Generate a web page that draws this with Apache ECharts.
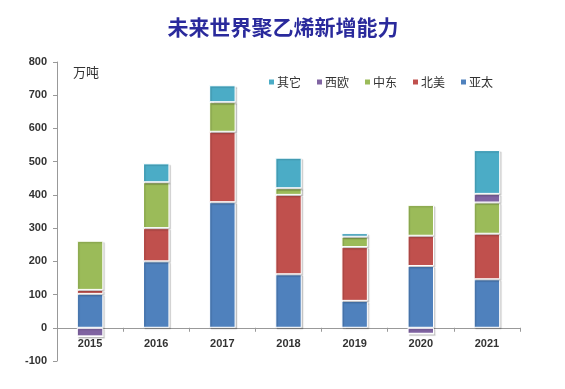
<!DOCTYPE html>
<html><head><meta charset="utf-8">
<script src="https://cdn.jsdelivr.net/npm/echarts@6/dist/echarts.min.js"></script>
<style>html,body{margin:0;padding:0;background:#fff}#c{width:565px;height:389px}</style>
</head><body><div id="c"></div>
<script>
const categories = ['2015','2016','2017','2018','2019','2020','2021'];
const asiaPac  = [102, 200, 378, 161, 81, 186, 146];
const northAm  = [12, 100, 212, 239, 162, 91, 137];
const midEast  = [148, 138, 89, 20, 31, 93, 94];
const westEu   = [-26, 0, 0, 0, 0, -18, 26];
const others   = [0, 57, 51, 92, 11, 0, 132];
const seriesNames = ['亚太','北美','中东','西欧','其它'];
const legendOrder = ['其它','西欧','中东','北美','亚太'];
const colors = ['#4F81BD','#C0504D','#9BBB59','#8064A2','#4BACC6'];
const data = [asiaPac, northAm, midEast, westEu, others];

const chart = echarts.init(document.getElementById('c'));
chart.setOption({
  backgroundColor: '#fff',
  animation: false,
  title: {
    text: '未来世界聚乙烯新增能力', left: 278, top: 12, textAlign: 'center',
    textStyle: { fontFamily: 'Noto Sans CJK SC', fontSize: 21, fontWeight: 'bold', color: '#2A2A9C' }
  },
  legend: {
    data: legendOrder, left: 262, top: 71, itemWidth: 7, itemHeight: 7, itemGap: 14,
    icon: 'rect',
    textStyle: { fontFamily: 'Noto Sans CJK SC', fontSize: 12, color: '#333', padding: [0,0,0,-3] }
  },
  grid: { left: 57, right: 45, top: 62, bottom: 28 },
  xAxis: {
    type: 'category', data: categories,
    axisLine: { onZero: true, lineStyle: { color: '#999' } },
    axisTick: { show: true, length: 4, lineStyle: { color: '#999' } },
    axisLabel: { fontFamily: 'Liberation Sans', fontWeight: 'bold', fontSize: 11, color: '#333', margin: -23 }
  },
  yAxis: {
    type: 'value', min: -100, max: 800, interval: 100,
    splitLine: { show: false },
    axisLine: { show: true, lineStyle: { color: '#999' } },
    axisTick: { show: true, length: 4, lineStyle: { color: '#999' } },
    axisLabel: { fontFamily: 'Liberation Sans', fontWeight: 'bold', fontSize: 11, color: '#333', margin: 10 }
  },
  graphic: [{
    type: 'text', left: 73, top: 66,
    style: { text: '万吨', font: '13px "Noto Sans CJK SC"', fill: '#333' }
  }],
  series: seriesNames.map((n, i) => ({
    name: n, type: 'bar', stack: 'total', barWidth: '40%',
    data: data[i],
    itemStyle: {
      color: colors[i], borderColor: '#fff', borderWidth: 1,
      shadowColor: 'rgba(0,0,0,0.15)', shadowBlur: 1, shadowOffsetX: 1.5, shadowOffsetY: 1.5
    }
  }))
});
</script></body></html>
